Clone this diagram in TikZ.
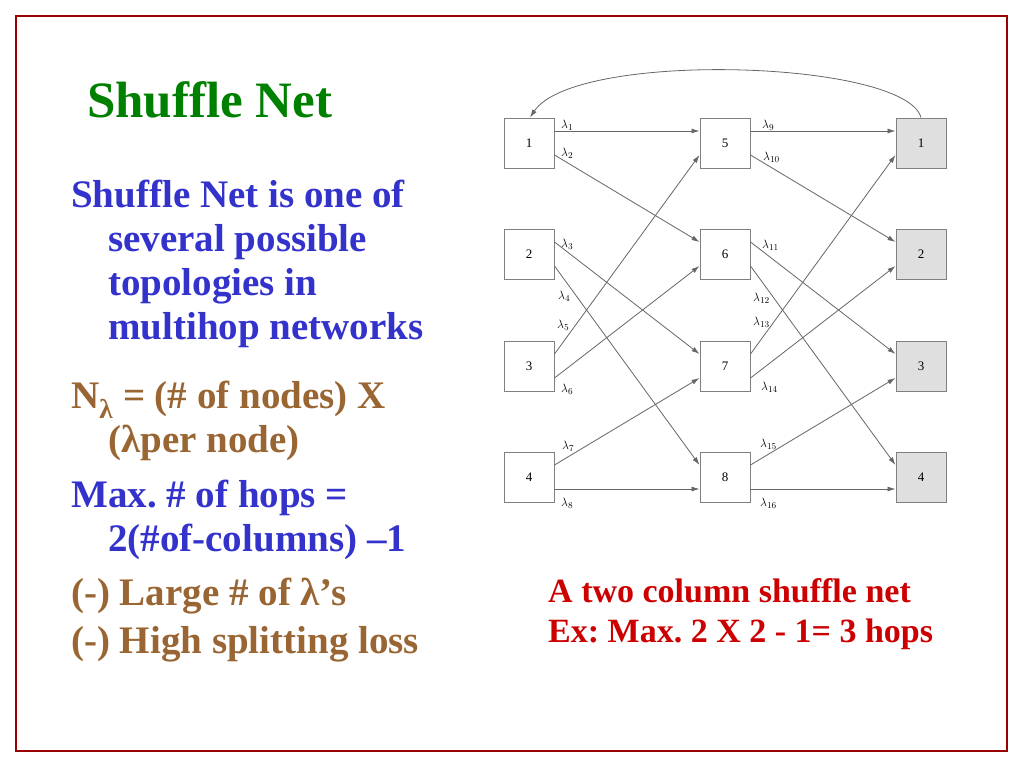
\documentclass[tikz,border=0pt]{standalone}
\usepackage{fontspec}
\setmainfont{Liberation Serif}
\frenchspacing
\usetikzlibrary{positioning,calc,arrows.meta}

\definecolor{titlegreen}{RGB}{0,128,0}
\definecolor{textblue}{RGB}{51,51,204}
\definecolor{textbrown}{RGB}{153,102,51}
\definecolor{captionred}{RGB}{204,0,0}
\definecolor{framered}{RGB}{153,0,0}

\tikzset{
  box/.style={draw=gray,line width=1pt,minimum size=50pt,inner sep=0pt,font=\fontsize{13}{13}\selectfont},
  sink/.style={box,fill=gray!25},
  link/.style={draw=gray!80!black,line width=0.8pt,-{Latex[length=8pt,width=5pt]}},
  wl/.style={anchor=west,inner sep=0pt,font=\fontsize{13}{13}\selectfont},
  slide/.style={anchor=base west,align=left,inner sep=0pt,font=\bfseries\fontsize{39}{44}\selectfont}
}

\begin{document}
\begin{tikzpicture}[x=1pt,y=-1pt]
    \useasboundingbox (0,0) rectangle (1024,768);
    \draw[framered,line width=2.5pt] (16,16) rectangle (1007,751);

    % left column text (base = last line)
    \node[slide,text=titlegreen,font=\bfseries\fontsize{51}{51}\selectfont] (title) at (87,117) {Shuffle Net};
    \node[slide,text=textblue] (topo) at (71,339) {Shuffle Net is one of\\\hspace*{37pt}several possible\\\hspace*{37pt}topologies in\\\hspace*{37pt}multihop networks};
    \node[slide,text=textbrown] (nlam) at (71,452) {N\textsubscript{λ} = (\# of nodes) X\\\hspace*{37pt}(λper node)};
    \node[slide,text=textblue] (hops) at (71,551) {Max. \# of hops =\\\hspace*{37pt}2(\#of-columns) –1};
    \node[slide,text=textbrown] (large) at (71,605) {(-) Large \# of λ’s};
    \node[slide,text=textbrown] (loss) at (71,653) {(-) High splitting loss};

    % shuffle net
    \foreach \i/\y in {1/143,2/254,3/366,4/477} {
        \pgfmathtruncatemacro\j{\i+4}
        \node[box] (a\i) at (529,\y) {\i};
        \node[box] (b\j) at (725,\y) {\j};
        \node[sink] (c\i) at (921,\y) {\i};
    }

    \foreach \s/\sp/\t/\tp in {a1/12pt/b5/12pt, a1/-12pt/b6/12pt, a2/12pt/b7/12pt, a2/-12pt/b8/12pt,
        a3/12pt/b5/-12pt, a3/-12pt/b6/-12pt, a4/12pt/b7/-12pt, a4/-12pt/b8/-12pt,
        b5/12pt/c1/12pt, b5/-12pt/c2/12pt, b6/12pt/c3/12pt, b6/-12pt/c4/12pt,
        b7/12pt/c1/-12pt, b7/-12pt/c2/-12pt, b8/12pt/c3/-12pt, b8/-12pt/c4/-12pt} {
        \draw[link] ([yshift=\sp]\s.east) -- ([yshift=\tp]\t.west);
    }

    \foreach \k/\x/\y in {1/561/125,2/561/153,3/561/244,4/558/296,5/557/325,6/561/389,7/562/446,8/561/503,
        9/762/125,10/763/157,11/762/245,12/753/298,13/753/322,14/761/387,15/760/444,16/760/503} {
        \node[wl] (l\k) at (\x,\y) {$\lambda_{\k}$};
    }

    \draw[link] (c1.north) .. controls (905,60) and (575,50) .. ([xshift=1pt]a1.north);

    \node[slide,text=captionred,font=\bfseries\fontsize{34}{40}\selectfont] (cap) at (548,642) {A two column shuffle net\\Ex: Max. 2 X 2 - 1= 3 hops};
\end{tikzpicture}
\end{document}
